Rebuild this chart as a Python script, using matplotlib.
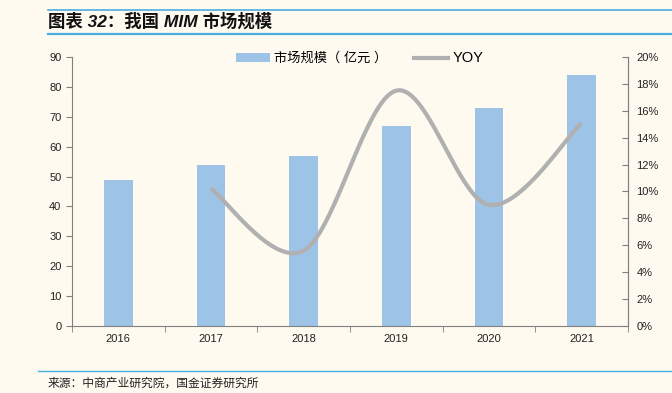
import numpy as np
import matplotlib
matplotlib.use("Agg")
import matplotlib.pyplot as plt
from matplotlib.lines import Line2D
from matplotlib.patches import Patch

plt.rcParams['font.family'] = ['Liberation Sans', 'Noto Sans CJK SC', 'DejaVu Sans']

years = ['2016', '2017', '2018', '2019', '2020', '2021']
market = [49, 54, 57, 67, 73, 84]
yoy = [None, 10.2, 5.6, 17.5, 9.0, 15.1]
left_ticks = list(range(0, 91, 10))
right_ticks = list(range(0, 21, 2))

bg = '#FEFAF0'
bar_color = '#9DC3E6'
line_color = '#B0B0B0'
spine_color = '#808080'
rule_color = '#4AAEE0'

fig = plt.figure(figsize=(6.72, 3.93), dpi=100, facecolor=bg)
ax = fig.add_axes([0.107, 0.1705, 0.8275, 0.6845], facecolor=bg)
x = np.arange(len(years))
ax.bar(x, market, width=0.31, color=bar_color, zorder=2)
ax.set_xlim(-0.5, len(years) - 0.5)
ax.set_ylim(0, 90)
ax.set_yticks(left_ticks)
ax.set_xticks(x)
ax.set_xticklabels(years)
ax.set_xticks(np.arange(-0.5, len(years), 1), minor=True)
ax.tick_params(axis='x', which='major', length=0, pad=6, labelsize=8, colors='#222222')
ax.tick_params(axis='x', which='minor', length=4, direction='out', color=spine_color)
ax.tick_params(axis='y', length=4, direction='out', color=spine_color, labelsize=8, labelcolor='#222222')
for s in ['top']:
    ax.spines[s].set_visible(False)
for s in ['left', 'bottom', 'right']:
    ax.spines[s].set_color(spine_color)
    ax.spines[s].set_linewidth(0.8)

ax2 = ax.twinx()
ax2.set_ylim(0, 20)
ax2.set_yticks(right_ticks)
ax2.set_yticklabels([f'{t}%' for t in right_ticks])
ax2.tick_params(axis='y', length=4, direction='in', color=spine_color, labelsize=8, labelcolor='#222222', pad=6)
ax2.spines['top'].set_visible(False)
ax2.spines['left'].set_visible(False)
ax2.spines['bottom'].set_visible(False)
ax2.spines['right'].set_color(spine_color)
ax2.spines['right'].set_linewidth(0.8)

# smoothed line (Bezier through points, Excel-style)
px = np.array([i for i, v in enumerate(yoy) if v is not None], dtype=float)
py = np.array([v for v in yoy if v is not None], dtype=float)
pts = np.column_stack([px, py])
curve = []
n = len(pts)
for i in range(n - 1):
    p0 = pts[i - 1] if i > 0 else pts[i]
    p1 = pts[i]
    p2 = pts[i + 1]
    p3 = pts[i + 2] if i + 2 < n else pts[i + 1]
    c1 = p1 + (p2 - p0) / 6.0
    c2 = p2 - (p3 - p1) / 6.0
    t = np.linspace(0, 1, 40)[:, None]
    seg = ((1 - t) ** 3) * p1 + 3 * ((1 - t) ** 2) * t * c1 + 3 * (1 - t) * t ** 2 * c2 + t ** 3 * p2
    curve.append(seg if i == 0 else seg[1:])
curve = np.vstack(curve)
ax2.plot(curve[:, 0], curve[:, 1], color=line_color, lw=3, solid_capstyle='butt', zorder=3)

handles = [Patch(facecolor=bar_color, edgecolor='none', label='市场规模（ 亿元 ）'),
           Line2D([0], [0], color=line_color, lw=3, label='YOY')]
leg = fig.legend(handles=handles, loc='center', bbox_to_anchor=(0.535, 0.852), ncol=2,
                 frameon=False, fontsize=9.5, handlelength=2.6, handleheight=0.6,
                 columnspacing=2.0, handletextpad=0.3)
for t in leg.get_texts():
    if t.get_text() == 'YOY':
        t.set_fontsize(10.5)

# header rules and title
fig.add_artist(Line2D([48 / 672, 1], [1 - 9.5 / 393] * 2, color=rule_color, lw=1.2))
fig.add_artist(Line2D([48 / 672, 1], [1 - 34 / 393] * 2, color=rule_color, lw=1.6))
fig.text(48 / 672, 1 - 21 / 393, '图表 32：我国 MIM 市场规模', fontsize=12.5, fontweight='bold',
         fontstyle='italic', va='center', ha='left', color='#111111',
         family=['Liberation Sans', 'Noto Sans CJK SC'])
fig.add_artist(Line2D([38 / 672, 1], [1 - 371 / 393] * 2, color=rule_color, lw=1.0))
fig.text(48 / 672, 1 - 383 / 393, '来源：中商产业研究院，国金证券研究所', fontsize=8.5,
         va='center', ha='left', color='#222222', family=['Noto Sans CJK SC'])

fig.savefig('out.png', dpi=100, facecolor=bg)
